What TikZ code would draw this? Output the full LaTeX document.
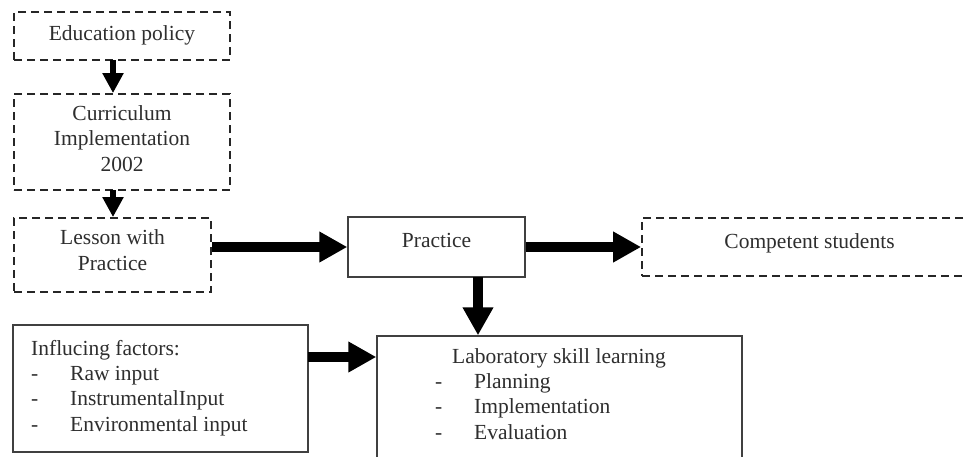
\documentclass[tikz,border=0pt]{standalone}
\usepackage{fontspec}
\setmainfont{Liberation Serif}
\usetikzlibrary{arrows.meta}
\begin{document}
\begin{tikzpicture}[x=1pt,y=-1pt,
 solidbox/.style={draw=black!75, line width=1.4pt, rectangle, inner sep=0pt},
 dashbox/.style={draw=black!85, line width=1.8pt, dash pattern=on 8pt off 5pt, rectangle, inner sep=0pt},
 txt/.style={font=\fontsize{21.5}{25.5}\selectfont, text=black!82, align=center, inner sep=0pt},
 ltxt/.style={font=\fontsize{21.5}{25.3}\selectfont, text=black!82, align=left, inner sep=0pt, anchor=north west},
 bigarrow/.style={draw=black, line width=10pt, -{Triangle[length=28pt,width=29pt]}},
 smallarrow/.style={draw=black, line width=6.5pt, -{Triangle[length=20pt,width=20pt]}},
]
\useasboundingbox (0,0) rectangle (965,456);
\fill[white] (0,0) rectangle (965,456);

% boxes
\node[dashbox, minimum width=216pt, minimum height=48pt] (edu) at (122,36) {};
\node[dashbox, minimum width=216pt, minimum height=96pt] (cur) at (122,142) {};
\node[dashbox, minimum width=197pt, minimum height=74pt] (les) at (112.5,255) {};
\node[solidbox, minimum width=177pt, minimum height=60pt] (pra) at (436.5,247) {};
\node[dashbox, minimum width=333pt, minimum height=58pt] (com) at (808.5,247) {};
\node[solidbox, minimum width=295pt, minimum height=127pt] (inf) at (160.5,388.5) {};
\node[solidbox, minimum width=365pt, minimum height=140pt] (lab) at (559.5,406) {};

% texts
\node[txt] (edut) at (122,35) {Education policy};
\node[txt] (curt) at (122,138.5) {Curriculum\\Implementation\\2002};
\node[txt] (lest) at (112.5,250) {Lesson with\\Practice};
\node[txt] (prat) at (436.5,240) {Practice};
\node[txt] (comt) at (809.5,243) {Competent students};
\node[ltxt] (inft) at (31,340) {Influcing factors:\\
\makebox[39pt][l]{-}Raw input\\
\makebox[39pt][l]{-}InstrumentalInput\\
\makebox[39pt][l]{-}Environmental input};
\node[ltxt] (labt) at (435,348) {\hspace*{17pt}Laboratory skill learning\\
\makebox[39pt][l]{-}Planning\\
\makebox[39pt][l]{-}Implementation\\
\makebox[39pt][l]{-}Evaluation};

% connector anchors
\coordinate (ec) at (113,60);
\coordinate (cl) at (113,190);
\coordinate (pl) at (478,277);
\coordinate (il) at (308,357);

% arrows
\draw[smallarrow] (ec) -- (ec |- cur.north);
\draw[smallarrow] (cl) -- (cl |- les.north);
\draw[bigarrow] (les.east |- pra.west) -- (pra.west);
\draw[bigarrow] (pra.east) -- (com.west);
\draw[bigarrow] (pl) -- (pl |- lab.north);
\draw[bigarrow] (il) -- (il -| lab.west);
\end{tikzpicture}
\end{document}
